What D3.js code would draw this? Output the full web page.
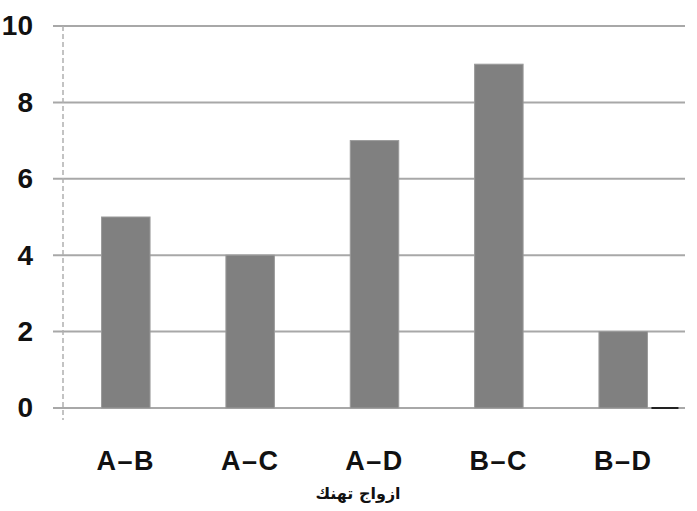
<!DOCTYPE html>
<html>
<head>
<meta charset="utf-8">
<script src="https://cdn.jsdelivr.net/npm/d3@7"></script>
<style>
  body { margin: 0; background: #fff; }
  svg { display: block; }
</style>
</head>
<body>
<svg width="697" height="511"></svg>
<script>
var categories = ['A–B', 'A–C', 'A–D', 'B–C', 'B–D'];
var values = [5, 4, 7, 9, 2];
var yTicks = [0, 2, 4, 6, 8, 10];
var xTitle = 'ازواج تهنك';

var margin = { top: 26, right: 10, bottom: 103, left: 63 };
var width = 697 - margin.left - margin.right;
var height = 511 - margin.top - margin.bottom;

var svg = d3.select('svg');
var g = svg.append('g').attr('transform', 'translate(' + margin.left + ',' + margin.top + ')');

var x = d3.scaleBand().domain(categories).range([0, 623]).paddingInner(0.61).paddingOuter(0.31);
var y = d3.scaleLinear().domain([0, 10]).range([height, 0]);

// gridlines
g.append('g')
    .selectAll('line')
    .data(yTicks)
    .join('line')
    .attr('x1', -10)
    .attr('x2', width - 2)
    .attr('y1', function(d) { return y(d); })
    .attr('y2', function(d) { return y(d); })
    .attr('stroke', '#a8a8a8')
    .attr('stroke-width', 2);

// left axis, dashed
g.append('line')
    .attr('x1', 0).attr('x2', 0)
    .attr('y1', 0).attr('y2', height + 12)
    .attr('stroke', '#b0b0b0')
    .attr('stroke-width', 1.5)
    .attr('stroke-dasharray', '5,3');

// bars
g.append('g')
    .selectAll('rect')
    .data(values)
    .join('rect')
    .attr('x', function(d, i) { return x(categories[i]); })
    .attr('width', x.bandwidth())
    .attr('y', function(d) { return y(d); })
    .attr('height', function(d) { return height - y(d); })
    .attr('fill', '#808080')
    .attr('stroke', '#9a9a9a')
    .attr('stroke-width', 1);

// small dark baseline stroke at right end
g.append('line')
    .attr('x1', x('B–D') + x.bandwidth() + 4)
    .attr('x2', x('B–D') + x.bandwidth() + 31)
    .attr('y1', y(0))
    .attr('y2', y(0))
    .attr('stroke', '#222')
    .attr('stroke-width', 2);

// y tick labels
var yAxis = d3.axisLeft(y).tickValues(yTicks).tickSize(0).tickPadding(30);
var ya = g.append('g').call(yAxis);
ya.select('.domain').remove();
ya.selectAll('text')
    .attr('font-family', 'Liberation Sans, Arial, sans-serif')
    .attr('font-weight', 'bold')
    .attr('font-size', 28)
    .attr('fill', '#111');

// x tick labels
var xAxis = d3.axisBottom(x).tickSize(0).tickPadding(43);
var xa = g.append('g').attr('transform', 'translate(0,' + height + ')').call(xAxis);
xa.select('.domain').remove();
xa.selectAll('text')
    .attr('font-family', 'Liberation Sans, Arial, sans-serif')
    .attr('font-weight', 'bold')
    .attr('font-size', 27)
    .attr('letter-spacing', 1.5)
    .attr('fill', '#111');

// x title
svg.append('text')
    .attr('x', 358)
    .attr('y', 499)
    .attr('text-anchor', 'middle')
    .attr('direction', 'rtl')
    .attr('font-family', 'DejaVu Sans, sans-serif')
    .attr('font-weight', 'bold')
    .attr('font-size', 16)
    .attr('fill', '#111')
    .text(xTitle);
</script>
</body>
</html>
